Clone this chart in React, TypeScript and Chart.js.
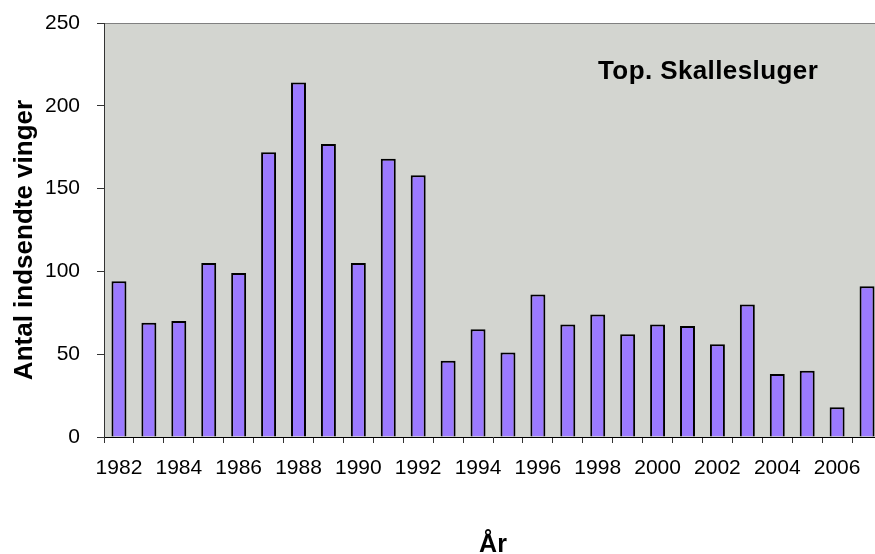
import React, { useEffect, useRef } from "react";
import { Chart, registerables } from "chart.js";

Chart.register(...registerables);

const years = [
  "1982", "1983", "1984", "1985", "1986", "1987", "1988", "1989", "1990", "1991",
  "1992", "1993", "1994", "1995", "1996", "1997", "1998", "1999", "2000", "2001",
  "2002", "2003", "2004", "2005", "2006", "2007",
];
const wings = [94, 69, 70, 105, 99, 172, 214, 177, 105, 168, 158, 46, 65, 51, 86, 68, 74, 62, 68, 67, 56, 80, 38, 40, 18, 91];
const yMin = 0;
const yMax = 250;
const yStep = 50;
const chartTitle = "Top. Skallesluger";
const yTitle = "Antal indsendte vinger";
const xTitle = "År";

const FONT = "'Liberation Sans', Arial, sans-serif";

export default function App() {
  const ref = useRef<HTMLCanvasElement | null>(null);

  useEffect(() => {
    const canvas = ref.current;
    if (!canvas) return;

    const bgPlugin = {
      id: "plotBg",
      beforeDraw(chart: any) {
        const { ctx, chartArea } = chart;
        ctx.save();
        ctx.fillStyle = "#d3d5d0";
        ctx.fillRect(chartArea.left, chartArea.top, chartArea.right - chartArea.left, chartArea.bottom - chartArea.top);
        ctx.strokeStyle = "#808080";
        ctx.lineWidth = 1;
        ctx.beginPath();
        ctx.moveTo(chartArea.left, Math.round(chartArea.top) + 0.5);
        ctx.lineTo(chartArea.right, Math.round(chartArea.top) + 0.5);
        ctx.stroke();
        ctx.restore();
      },
    };

    const textPlugin = {
      id: "texts",
      afterDraw(chart: any) {
        const { ctx, chartArea } = chart;
        ctx.save();
        ctx.fillStyle = "#000";
        ctx.font = `bold 26px ${FONT}`;
        ctx.textAlign = "left";
        ctx.textBaseline = "alphabetic";
        try {
          (ctx as any).letterSpacing = "0.4px";
        } catch (e) {}
        ctx.fillText(chartTitle, 598, 79);
        try {
          (ctx as any).letterSpacing = "0px";
        } catch (e) {}

        ctx.save();
        ctx.translate(32, 240);
        ctx.rotate(-Math.PI / 2);
        ctx.textAlign = "center";
        ctx.fillText(yTitle, 0, 0);
        ctx.restore();

        ctx.font = `bold 25px ${FONT}`;
        ctx.textAlign = "center";
        ctx.fillText(xTitle, (chartArea.left + chartArea.right) / 2, 552);
        ctx.restore();
      },
    };

    const chart = new Chart(canvas, {
      type: "bar",
      data: {
        labels: years,
        datasets: [
          {
            data: wings,
            backgroundColor: "#9b7aff",
            borderColor: "#000",
            borderWidth: 2,
            barPercentage: 0.5,
            categoryPercentage: 1,
          },
        ],
      },
      options: {
        responsive: false,
        animation: false,
        layout: { padding: { top: 23, left: 0, right: 0, bottom: 0 } },
        plugins: {
          legend: { display: false },
          tooltip: { enabled: false },
          title: { display: false },
        },
        scales: {
          x: {
            offset: true,
            grid: { offset: true, drawOnChartArea: false, tickLength: 6, color: "#333" },
            border: { color: "#000", width: 1 },
            ticks: {
              autoSkip: false,
              maxRotation: 0,
              minRotation: 0,
              padding: 13,
              color: "#000",
              font: { family: FONT, size: 21 },
              callback: (_v: any, i: number) => (i % 2 === 0 ? years[i] : ""),
            },
            afterFit: (scale: any) => {
              scale.height = 117;
              scale.paddingLeft = 0;
              scale.paddingRight = 0;
            },
          },
          y: {
            min: yMin,
            max: yMax,
            grid: { drawOnChartArea: false, tickLength: 7, color: "#333" },
            border: { color: "#333", width: 1 },
            ticks: {
              stepSize: yStep,
              padding: 17,
              color: "#000",
              font: { family: FONT, size: 21 },
            },
            afterFit: (scale: any) => {
              scale.width = 104;
              scale.paddingTop = 0;
              scale.paddingBottom = 0;
            },
          },
        },
      },
      plugins: [bgPlugin, textPlugin],
    });

    return () => chart.destroy();
  }, []);

  return (
    <div
      style={{
        position: "fixed",
        left: 0,
        top: 0,
        width: 875,
        height: 554,
        overflow: "hidden",
        background: "#fff",
      }}
    >
      <canvas ref={ref} width={882} height={554} style={{ display: "block", width: 882, height: 554 }} />
    </div>
  );
}
